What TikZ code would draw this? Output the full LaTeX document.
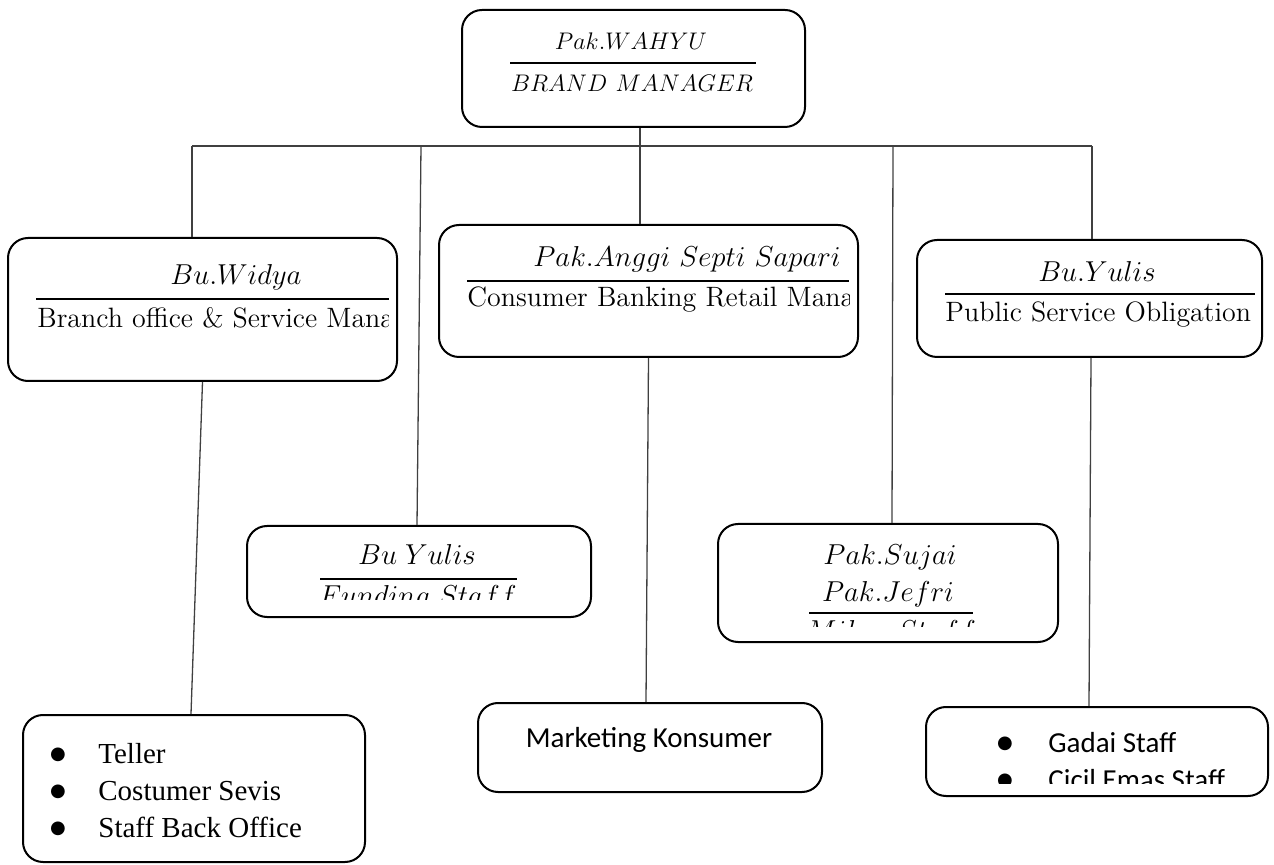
\documentclass[tikz,border=0pt]{standalone}
\usepackage{fontspec}
\setmainfont{Latin Modern Roman}
\newfontfamily\timesf{Liberation Serif}
\newfontfamily\calif{Carlito}
\newfontfamily\dejavu{DejaVu Sans}
\usetikzlibrary{fit,calc}

\begin{document}
\begin{tikzpicture}[x=0.5pt,y=-0.5pt,
  box/.style={draw=black, line width=1pt, rounded corners=10pt, inner sep=0pt, fit={#1}},
  link/.style={draw=black!75, line width=0.65pt},
  bar/.style={draw=black, line width=1.3pt},
  mtxt/.style={inner sep=0pt, anchor=base, font=\fontsize{14}{17}\selectfont},
  rtxt/.style={inner sep=0pt, anchor=base west, font=\fontsize{14}{17}\selectfont},
  ttxt/.style={inner sep=0pt, anchor=base west, font=\timesf\fontsize{14.5}{17}\selectfont},
  ctxt/.style={inner sep=0pt, anchor=base west, font=\calif\fontsize{14.5}{17}\selectfont},
  bul/.style={inner sep=0pt, anchor=base, font=\dejavu\fontsize{9}{10}\selectfont},
]
\useasboundingbox (0,0) rectangle (1274,865);

% boxes
\node[box={(462,10) (805,127)}] (top) {};
\node[box={(8,238) (397,381)}] (widya) {};
\node[box={(439,225) (858,357)}] (anggi) {};
\node[box={(917,240) (1262,357)}] (yulis) {};
\node[box={(247,526) (591,617)}] (funding) {};
\node[box={(718,524) (1058,642)}] (sujai) {};
\node[box={(23,715) (365,862)}] (teller) {};
\node[box={(478,703) (822,792)}] (marketing) {};
\node[box={(926,707) (1268,796)}] (gadai) {};

% top box text
\node[mtxt, font=\fontsize{13}{15}\selectfont] (topname) at (631,50) {$Pak.WAHYU$};
\draw[bar] (510,63) -- (756,63);
\node[mtxt, font=\fontsize{13}{16}\selectfont] (toprole) at (632,92) {$BRAND\ MANAGER$};

% widya
\node[mtxt] (widyaname) at (236,285) {$Bu.Widya$};
\draw[bar] (36,299) -- (389,299);
\begin{scope}
  \clip (30,305) rectangle (388,340);
  \node[rtxt] (widyarole) at (37,328) {Branch office \& Service Manager};
\end{scope}

% anggi
\node[mtxt] (angginame) at (687,267) {$Pak.Anggi\ Septi\ Sapari$};
\draw[bar] (467,281) -- (849,281);
\begin{scope}
  \clip (460,285) rectangle (849,320);
  \node[rtxt] (anggirole) at (467,307) {Consumer Banking Retail Manager};
\end{scope}

% yulis
\node[mtxt] (yulisname) at (1097,282) {$Bu.Yulis$};
\draw[bar] (945,294) -- (1255,294);
\node[rtxt] (yulisrole) at (945,322) {Public Service Obligation};

% funding
\node[mtxt] (fundname) at (417,565) {$Bu\;Yulis$};
\draw[bar] (320,579) -- (517,579);
\begin{scope}
  \clip (300,583) rectangle (540,600);
  \node[mtxt] (fundrole) at (418,605) {$Funding\ Staff$};
\end{scope}

% sujai
\node[mtxt] (sujainame) at (890,565) {$Pak.Sujai$};
\node[mtxt] (jefriname) at (888,602) {$Pak.Jefri$};
\draw[bar] (809,613) -- (973,613);
\begin{scope}
  \clip (790,617) rectangle (990,626);
  \node[mtxt] (sujairole) at (891,640) {$Mikro\ Staff$};
\end{scope}

% teller list
\node[bul] (tb1) at (58,759) {●};
\node[ttxt] (tl1) at (98,763) {Teller};
\node[bul] (tb2) at (58,796) {●};
\node[ttxt] (tl2) at (98,800) {Costumer Sevis};
\node[bul] (tb3) at (58,833) {●};
\node[ttxt] (tl3) at (98,837) {Staff Back Office};

% marketing
\node[inner sep=0pt, anchor=base, font=\calif\fontsize{14.5}{17}\selectfont] (mktext) at (649,747) {Marketing Konsumer};

% gadai list
\node[bul] (gb1) at (1005,748) {●};
\node[ctxt] (gl1) at (1048,752) {Gadai Staff};
\begin{scope}
  \clip (990,765) rectangle (1250,783);
  \node[bul] (gb2) at (1005,785) {●};
  \node[ctxt] (gl2) at (1048,789) {Cicil Emas Staff};
\end{scope}

% connectors
\coordinate (b1) at (192,146);
\coordinate (b2) at (421,146);
\coordinate (b3) at (640,146);
\coordinate (b4) at (893,146);
\coordinate (b5) at (1092,146);
\draw[link] (b1) -- (b5);
\draw[link] (b3 |- top.south) -- (b3);
\draw[link] (b1) -- (b1 |- widya.north);
\draw[link] (b2) -- ([xshift=-2pt]b2 |- funding.north);
\draw[link] (b3) -- (b3 |- anggi.north);
\draw[link] (b4) -- ([xshift=-0.5pt]b4 |- sujai.north);
\draw[link] (b5) -- (b5 |- yulis.north);
\draw[link] (widya.south) -- ([xshift=-1.5pt]teller.north);
\draw[link] (anggi.south) -- ([xshift=-2pt]marketing.north);
\draw[link] ([xshift=0.75pt]yulis.south) -- ([xshift=-4pt]gadai.north);
\end{tikzpicture}
\end{document}
